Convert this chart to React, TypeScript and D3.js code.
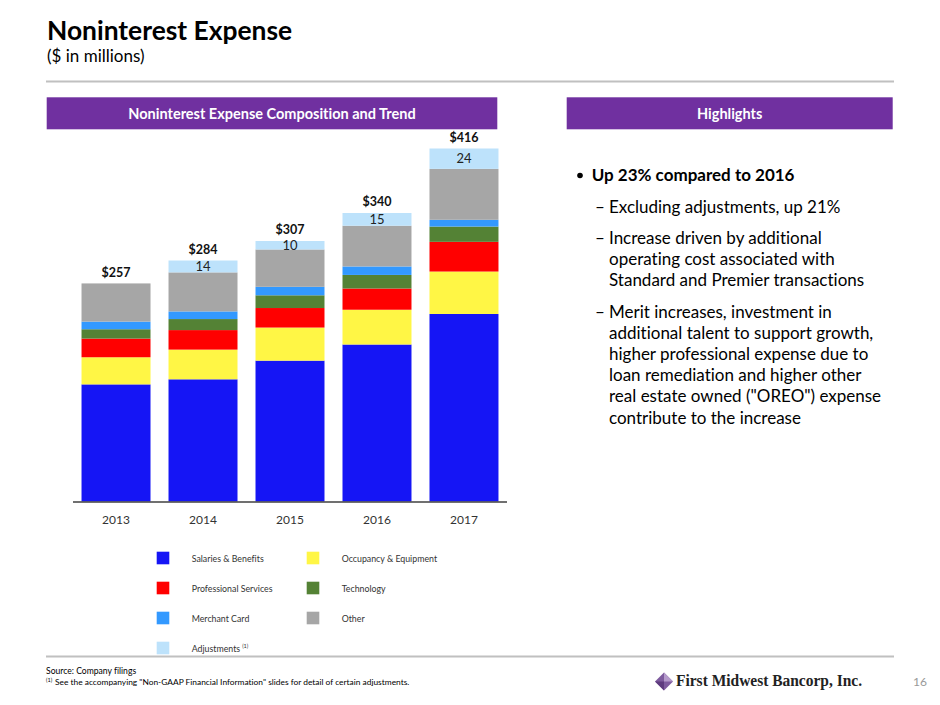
import React from "react";
import * as d3 from "d3";

const years = ["2013", "2014", "2015", "2016", "2017"];
const salaries = [138, 144, 166, 185, 221];
const occupancy = [32, 35, 39, 41, 50];
const professional = [22, 23, 23, 25, 35];
const technology = [11, 13, 15, 16, 18];
const merchantCard = [9, 9, 10, 10, 8];
const other = [45, 46, 44, 48, 60];
const adjustments = [0, 14, 10, 15, 24];
const totals = [257, 284, 307, 340, 416];

const seriesNames = [
  "Salaries & Benefits",
  "Occupancy & Equipment",
  "Professional Services",
  "Technology",
  "Merchant Card",
  "Other",
  "Adjustments",
];
const seriesValues = [salaries, occupancy, professional, technology, merchantCard, other, adjustments];
const seriesColors = ["#1515F5", "#FFF645", "#FF0000", "#548235", "#3399FF", "#A6A6A6", "#BDE2FB"];

const highlightMain = "Up 23% compared to 2016";
const highlightSubs = [
  ["Excluding adjustments, up 21%"],
  ["Increase driven by additional", "operating cost associated with", "Standard and Premier transactions"],
  [
    "Merit increases, investment in",
    "additional talent to support growth,",
    "higher professional expense due to",
    "loan remediation and higher other",
    "real estate owned (\"OREO\") expense",
    "contribute to the increase",
  ],
];

const FONT = "Lato, 'Open Sans', sans-serif";

export default function App() {
  const x = d3.scaleBand<string>().domain(years).range([73, 507]).paddingInner(0.207).paddingOuter(0.098);
  const y = d3.scaleLinear().domain([0, 416]).range([501.5, 148.5]);

  const table = years.map((yr, i) => {
    const row: any = { year: yr };
    seriesNames.forEach((s, k) => (row[s] = seriesValues[k][i]));
    return row;
  });
  const stack = d3.stack<any>().keys(seriesNames)(table);

  const legendPos = seriesNames.map((_, i) => ({ col: i % 2, row: Math.floor(i / 2) }));

  const subLines: { text: string; y: number; dash: boolean }[] = [];
  let yy = 212.7;
  highlightSubs.forEach((para) => {
    para.forEach((t, j) => {
      subLines.push({ text: t, y: yy, dash: j === 0 });
      yy += 21.2;
    });
    yy += 10;
  });

  return (
    <div style={{ position: "absolute", left: 0, top: 0 }}>
      <svg
        width={940}
        height={705}
        style={{ display: "block", fontFamily: FONT, fontVariantLigatures: "none" }}
      >
        <rect width={940} height={705} fill="#fff" />
        <text x={47} y={40} fontSize={26.4} fontWeight={700} fill="#000">Noninterest Expense</text>
        <text x={47} y={61.5} fontSize={17} fill="#000">($ in millions)</text>
        <line x1={46} x2={894} y1={81.5} y2={81.5} stroke="#C0C0C0" strokeWidth={2} />

        <rect x={46.7} y={97.3} width={450.6} height={32} fill="#7030A0" />
        <text x={272} y={118.5} fontSize={14.5} fontWeight={700} fill="#fff" textAnchor="middle">
          Noninterest Expense Composition and Trend
        </text>
        <rect x={566.7} y={97.3} width={326} height={32} fill="#7030A0" />
        <text x={729.7} y={118.5} fontSize={14.5} fontWeight={700} fill="#fff" textAnchor="middle">
          Highlights
        </text>

        {stack.map((layer, k) => (
          <g key={layer.key}>
            {layer.map((d, i) =>
              d[1] - d[0] > 0 ? (
                <rect
                  key={i}
                  x={x(years[i])}
                  width={x.bandwidth()}
                  y={y(d[1])}
                  height={y(d[0]) - y(d[1])}
                  fill={seriesColors[k]}
                />
              ) : null
            )}
          </g>
        ))}
        {stack[6].map((d, i) =>
          adjustments[i] > 0 ? (
            <text
              key={i}
              x={(x(years[i]) as number) + x.bandwidth() / 2}
              y={(y(d[0]) + y(d[1])) / 2 + 4.5}
              fontSize={13}
              textAnchor="middle"
              fill="#222"
            >
              {adjustments[i]}
            </text>
          ) : null
        )}
        {totals.map((t, i) => (
          <text
            key={i}
            x={(x(years[i]) as number) + x.bandwidth() / 2}
            y={y(t) - 6.5}
            fontSize={12.5}
            fontWeight={700}
            textAnchor="middle"
            fill="#111"
          >
            ${t}
          </text>
        ))}
        <line x1={73} x2={507} y1={y(0) + 0.5} y2={y(0) + 0.5} stroke="#404040" strokeWidth={1.5} />
        {years.map((yr) => (
          <text key={yr} x={(x(yr) as number) + x.bandwidth() / 2} y={524} fontSize={12} textAnchor="middle" fill="#333">
            {yr}
          </text>
        ))}

        {seriesNames.map((s, i) => {
          const p = legendPos[i];
          const lx = 156.7 + p.col * 150;
          const ly = 551.7 + p.row * 30;
          return (
            <g key={s}>
              <rect x={lx} y={ly} width={12.6} height={12.6} fill={seriesColors[i]} />
              <text x={lx + 35} y={ly + 10} fontSize={8.8} fill="#333">
                {s}
                {s === "Adjustments" ? (
                  <tspan fontSize={5.5} dy={-4} dx={2}>(1)</tspan>
                ) : null}
              </text>
            </g>
          );
        })}

        <circle cx={580} cy={175.5} r={2.8} fill="#000" />
        <text x={591.7} y={180.7} fontSize={17} fontWeight={700} fill="#000">{highlightMain}</text>
        {subLines.map((l, i) => (
          <g key={i}>
            {l.dash ? (
              <text x={595} y={l.y} fontSize={17} fill="#000">–</text>
            ) : null}
            <text x={609} y={l.y} fontSize={17} fill="#000">{l.text}</text>
          </g>
        ))}

        <line x1={46} x2={894} y1={656.5} y2={656.5} stroke="#C0C0C0" strokeWidth={2} />
        <text x={46} y={674} fontSize={8.6} fill="#000">Source: Company filings</text>
        <text x={46} y={681.5} fontSize={5.5} fill="#000">(1)</text>
        <text x={55} y={685} fontSize={8.4} fill="#000">
          See the accompanying "Non-GAAP Financial Information" slides for detail of certain adjustments.
        </text>

        <g transform="translate(664,681.5)">
          <path d="M0,-9 L9,0 L0,9 L-9,0 Z" fill="#7E5B9E" />
          <path d="M0,-9 L9,0 L0,0 Z" fill="#B59BCB" />
          <path d="M-9,0 L0,0 L0,9 Z" fill="#5E3B7E" />
        </g>
        <text
          x={676}
          y={686}
          fontSize={16}
          fontWeight={700}
          fill="#222"
          fontFamily="'Liberation Serif', serif"
          textLength={186}
          lengthAdjust="spacingAndGlyphs"
        >
          First Midwest Bancorp, Inc.
        </text>
        <text x={913} y={686} fontSize={12} fill="#999">16</text>
      </svg>
    </div>
  );
}
